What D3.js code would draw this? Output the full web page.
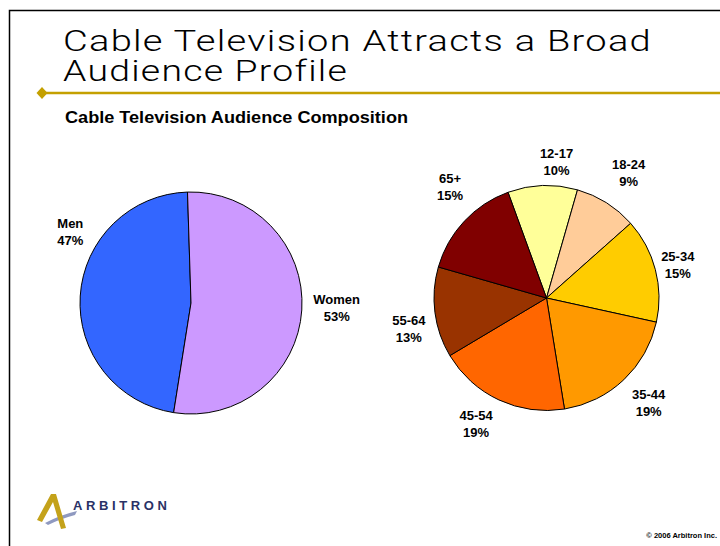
<!DOCTYPE html>
<html>
<head>
<meta charset="utf-8">
<script src="https://cdn.jsdelivr.net/npm/d3@7"></script>
<style>
  html, body { margin: 0; padding: 0; background: #fff; }
  svg { display: block; }
</style>
</head>
<body>
<svg id="slide" width="720" height="546"></svg>
<script>
// Audience split by gender (percent)
const genderCategories = ["Men", "Women"];
const genderValues = [47, 53];
const genderColors = ["#3366FF", "#CC99FF"];

// Audience split by age group (percent)
const ageCategories = ["12-17", "18-24", "25-34", "35-44", "45-54", "55-64", "65+"];
const ageValues = [10, 9, 15, 19, 19, 13, 15];
const ageColors = ["#FFFF99", "#FFCC99", "#FFCC00", "#FF9900", "#FF6600", "#993300", "#800000"];

const deg = Math.PI / 180;
const svg = d3.select("#slide");

// Slide frame
svg.append("path")
  .attr("d", "M9.5,560 L9.5,10.5 L730,10.5")
  .attr("fill", "none").attr("stroke", "#000").attr("stroke-width", 1.5);

// Title
const title = svg.append("text")
  .attr("font-family", "Roboto, 'Open Sans', sans-serif")
  .attr("font-weight", 300)
  .attr("font-size", 30)
  .attr("letter-spacing", 1)
  .attr("fill", "#000");
title.append("tspan").attr("x", 63).attr("y", 51)
  .attr("textLength", 589).attr("lengthAdjust", "spacingAndGlyphs")
  .text("Cable Television Attracts a Broad");
title.append("tspan").attr("x", 63).attr("y", 81)
  .attr("textLength", 285).attr("lengthAdjust", "spacingAndGlyphs")
  .text("Audience Profile");

// Gold rule with diamond
svg.append("line")
  .attr("x1", 42).attr("x2", 730).attr("y1", 93).attr("y2", 93)
  .attr("stroke", "#C4A000").attr("stroke-width", 2.5);
svg.append("path")
  .attr("d", "M36.5,93 L42,87 L47.5,93 L42,99 Z")
  .attr("fill", "#C4A000");

// Subtitle
svg.append("text")
  .attr("x", 65).attr("y", 123)
  .attr("font-family", "'Liberation Sans', Arial, sans-serif")
  .attr("font-weight", "bold").attr("font-size", 16)
  .attr("textLength", 343).attr("lengthAdjust", "spacingAndGlyphs")
  .text("Cable Television Audience Composition");

// Label fine placement (pixels, relative to the arc label point)
const labelNudge = {
  "Men": [20, -62], "Women": [5, -4],
  "12-17": [15, 7], "18-24": [6, -4], "25-34": [-7, 3], "35-44": [4, 1.5],
  "45-54": [-10, -3.5], "55-64": [4, 13], "65+": [8, -14]
};

function drawPie(cats, vals, colors, cx, cy, r, startDeg) {
  const data = cats.map((c, i) => ({ cat: c, value: vals[i], color: colors[i] }));
  const pie = d3.pie().sort(null).value(d => d.value)
    .startAngle(startDeg * deg).endAngle(startDeg * deg + 2 * Math.PI);
  const arc = d3.arc().innerRadius(0).outerRadius(r);
  const labelR = r * 1.27;
  const labelArc = d3.arc().innerRadius(labelR).outerRadius(labelR);
  const g = svg.append("g").attr("transform", `translate(${cx},${cy})`);
  const arcs = pie(data);

  g.selectAll("path.slice").data(arcs).join("path")
    .attr("class", "slice")
    .attr("d", arc)
    .attr("fill", d => d.data.color)
    .attr("stroke", "#000").attr("stroke-width", 1)
    .attr("stroke-linejoin", "round");

  const lab = g.selectAll("text.lbl").data(arcs).join("text")
    .attr("class", "lbl")
    .attr("font-family", "'Liberation Sans', Arial, sans-serif")
    .attr("font-weight", "bold").attr("font-size", 13)
    .attr("text-anchor", "middle").attr("fill", "#000")
    .attr("transform", d => {
      const [x, y] = labelArc.centroid(d);
      const n = labelNudge[d.data.cat] || [0, 0];
      return `translate(${x + n[0]},${y + n[1]})`;
    });
  lab.append("tspan").attr("x", 0).attr("y", -4).text(d => d.data.cat);
  lab.append("tspan").attr("x", 0).attr("y", 13).text(d => d.data.value + "%");
}

drawPie(genderCategories, genderValues, genderColors, 191, 303, 111, 189);
drawPie(ageCategories, ageValues, ageColors, 546.5, 298, 112.5, -20);

// Company logo
const logo = svg.append("g");
logo.append("path")
  .attr("d", "M45,523 Q60,515 77,511 L75,515 Q60,519 48,525 Z")
  .attr("fill", "#8f99c0");
logo.append("path")
  .attr("d", "M37,520 L51,494 L56,494 L66,528 L61,529 L53,502 L42,522 Z")
  .attr("fill", "#C4A21A");
logo.append("text")
  .attr("x", 73).attr("y", 509.5)
  .attr("font-family", "'Liberation Sans', Arial, sans-serif")
  .attr("font-weight", "bold")
  .attr("font-size", 13).attr("fill", "#2a3266")
  .attr("textLength", 94).attr("lengthAdjust", "spacing")
  .text("ARBITRON");

// Copyright
svg.append("text")
  .attr("x", 717).attr("y", 538)
  .attr("text-anchor", "end")
  .attr("font-family", "'Liberation Sans', Arial, sans-serif")
  .attr("font-weight", "bold").attr("font-size", 7.5)
  .text("© 2006 Arbitron Inc.");
</script>
</body>
</html>
